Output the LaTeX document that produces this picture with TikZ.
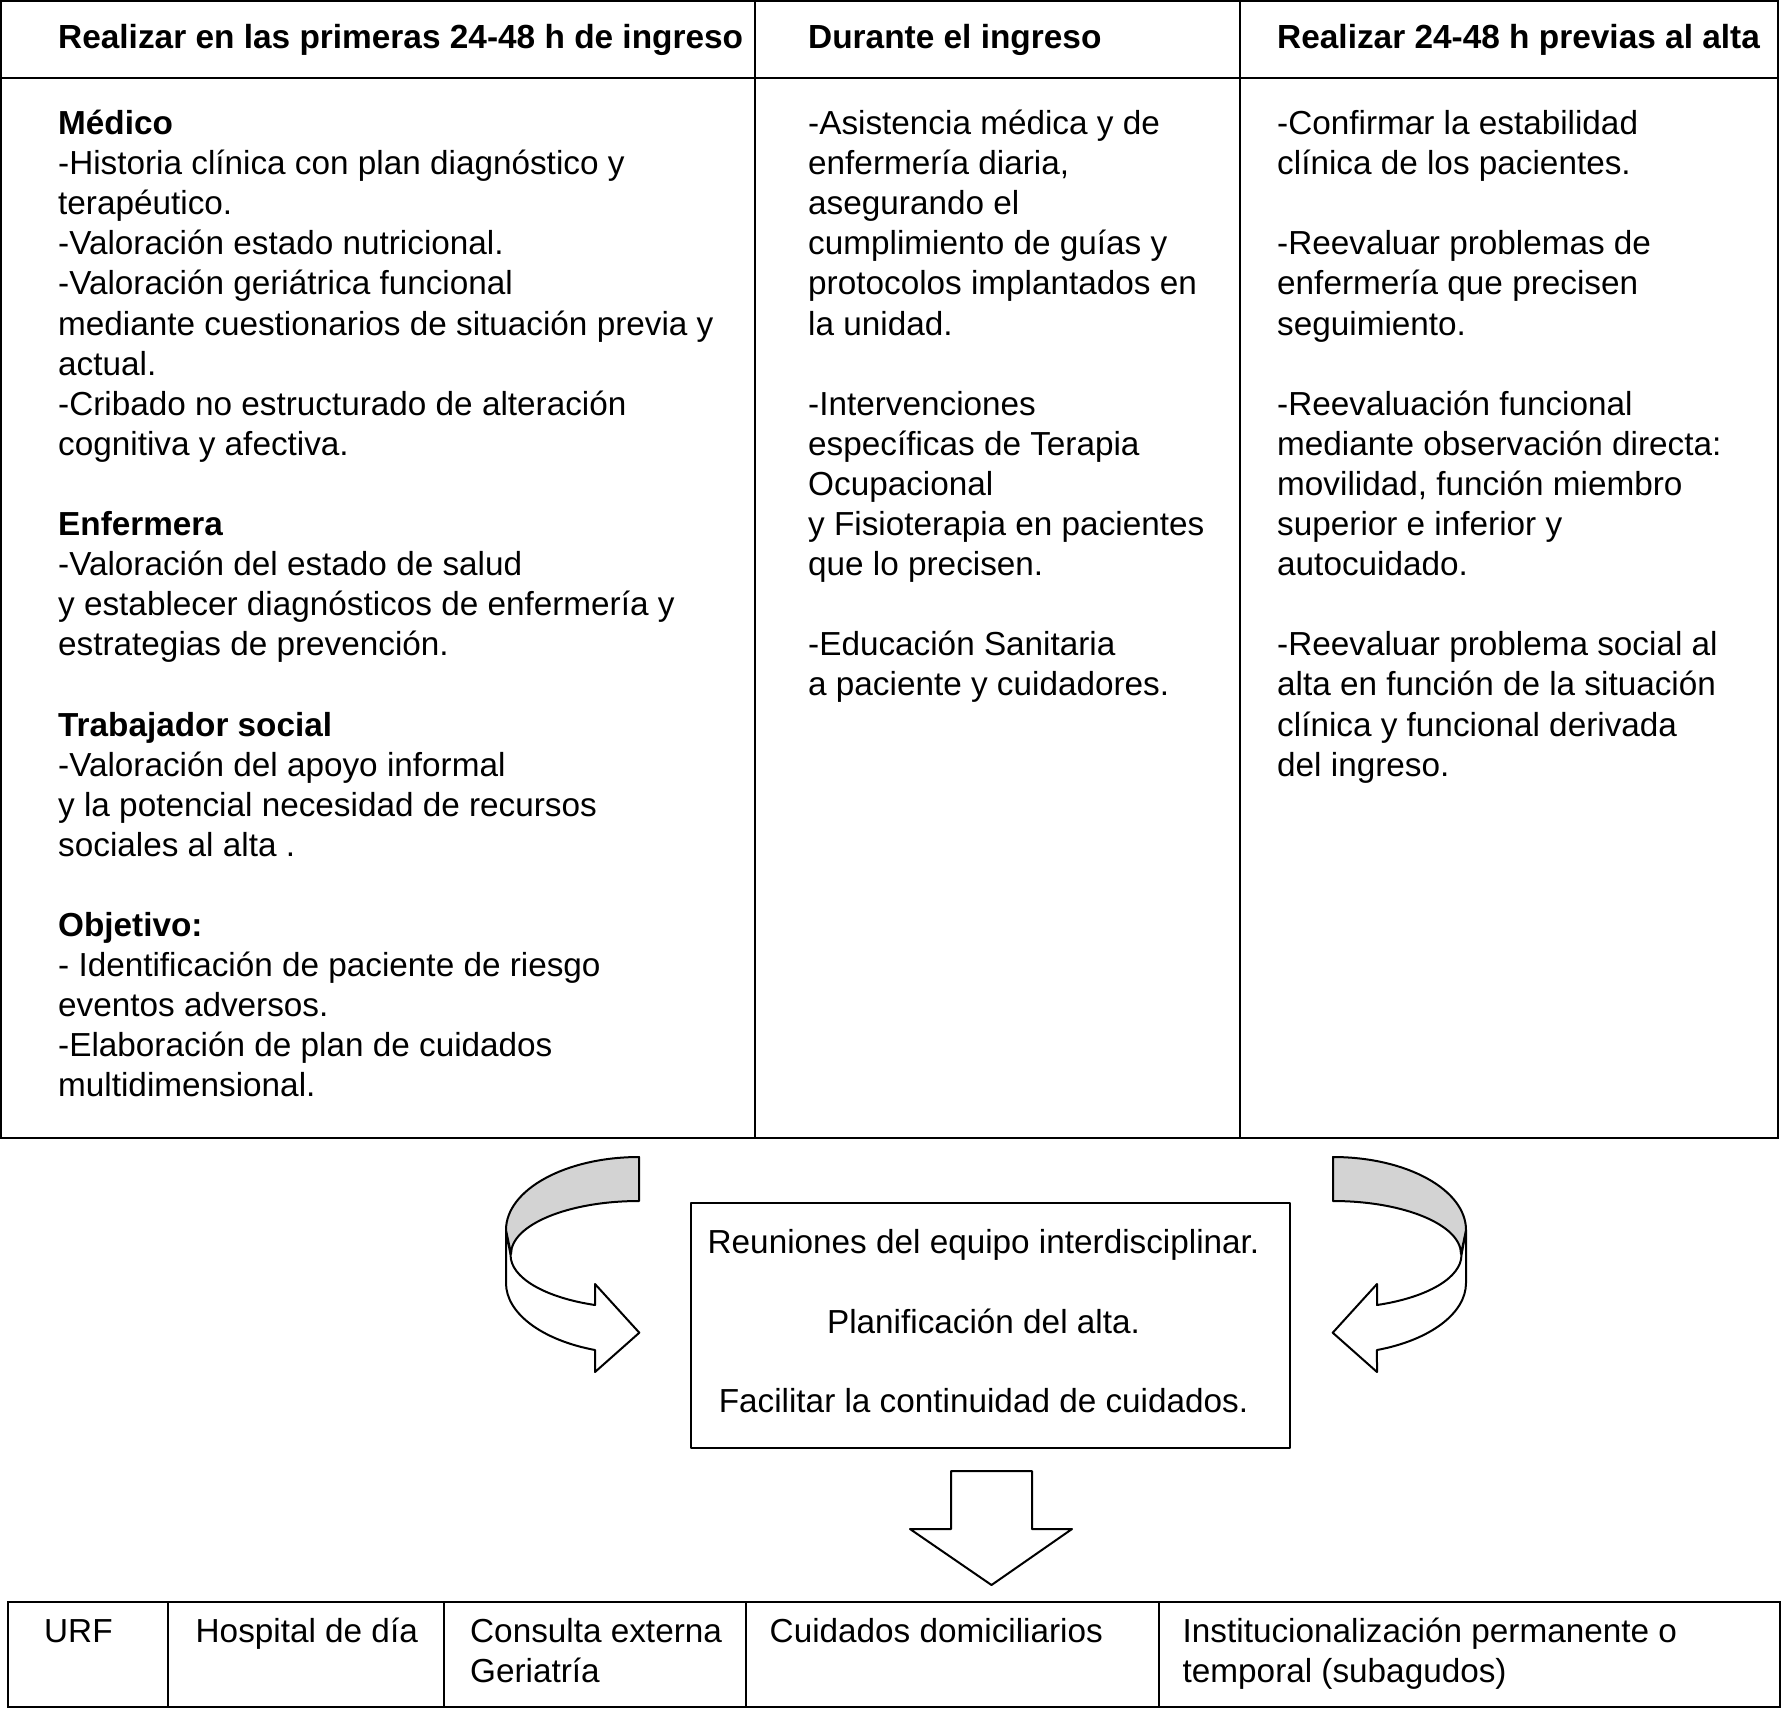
\documentclass[tikz,border=0pt]{standalone}
\usepackage{fontspec}
\setmainfont{Liberation Sans}
\definecolor{ribbongray}{RGB}{211,211,211}
\tikzset{
  frame/.style={draw=black, line width=2.2pt},
  blk/.style={draw=black, line width=2pt, line join=round},
  txt/.style={anchor=base west, inner sep=0pt, font=\fontsize{33.3}{40.1}\selectfont},
  ctxt/.style={anchor=base, inner sep=0pt, font=\fontsize{33.3}{40.1}\selectfont},
  head/.style={anchor=base west, inner sep=0pt, font=\fontsize{33.4}{40.1}\selectfont\bfseries},
}
\newcommand{\colbox}[2]{\begin{minipage}[t]{#1}\fontsize{33.3}{40.1}\selectfont\raggedright #2\end{minipage}}
\begin{document}
\begin{tikzpicture}[x=1pt,y=1pt]
\useasboundingbox (0,0) rectangle (1782,-1709);
% ---------- top table ----------
\draw[frame] (1,-1) rectangle (1778,-1138);
\draw[frame] (1,-78) -- (1778,-78);
\draw[frame] (755,-1) -- (755,-1138);
\draw[frame] (1240,-1) -- (1240,-1138);
\node[head] (h1) at (58,-48) {Realizar en las primeras 24-48 h de ingreso};
\node[head] (h2) at (808,-48) {Durante el ingreso};
\node[head] (h3) at (1277,-48) {Realizar 24-48 h previas al alta};
\node[txt] (c1) at (58,-134.5) {\colbox{690pt}{%
\textbf{Médico}\\
-Historia clínica con plan diagnóstico y\\
terapéutico.\\
-Valoración estado nutricional.\\
-Valoración geriátrica funcional\\
mediante cuestionarios de situación previa y\\
actual.\\
-Cribado no estructurado de alteración\\
cognitiva y afectiva.\\[40.1pt]
\textbf{Enfermera}\\
-Valoración del estado de salud\\
y establecer diagnósticos de enfermería y\\
estrategias de prevención.\\[40.1pt]
\textbf{Trabajador social}\\
-Valoración del apoyo informal\\
y la potencial necesidad de recursos\\
sociales al alta .\\[40.1pt]
\textbf{Objetivo:}\\
- Identificación de paciente de riesgo\\
eventos adversos.\\
-Elaboración de plan de cuidados\\
multidimensional.}};
\node[txt] (c2) at (808,-134.5) {\colbox{430pt}{%
-Asistencia médica y de\\
enfermería diaria,\\
asegurando el\\
cumplimiento de guías y\\
protocolos implantados en\\
la unidad.\\[40.1pt]
-Intervenciones\\
específicas de Terapia\\
Ocupacional\\
y Fisioterapia en pacientes\\
que lo precisen.\\[40.1pt]
-Educación Sanitaria\\
a paciente y cuidadores.}};
\node[txt] (c3) at (1277,-134.5) {\colbox{500pt}{%
-Confirmar la estabilidad\\
clínica de los pacientes.\\[40.1pt]
-Reevaluar problemas de\\
enfermería que precisen\\
seguimiento.\\[40.1pt]
-Reevaluación funcional\\
mediante observación directa:\\
movilidad, función miembro\\
superior e inferior y\\
autocuidado.\\[40.1pt]
-Reevaluar problema social al\\
alta en función de la situación\\
clínica y funcional derivada\\
del ingreso.}};
% ---------- curved ribbon arrows ----------
\begin{scope}
\draw[blk, fill=white] (506,-1230) -- (506,-1283)
  arc[start angle=180, end angle=250.7, x radius=133pt, y radius=71pt]
  -- (595,-1372) -- (639.3,-1332.7) -- (595,-1284) -- (595,-1305)
  arc[start angle=250.1, end angle=180, x radius=128pt, y radius=53pt] -- cycle;
\draw[blk, fill=ribbongray] (639,-1157)
  arc[start angle=90, end angle=180, x radius=133pt, y radius=73pt]
  -- (511,-1254)
  arc[start angle=180, end angle=90, x radius=128pt, y radius=53pt] -- cycle;
\end{scope}
\begin{scope}[xshift=1972pt, xscale=-1]
\draw[blk, fill=white] (506,-1230) -- (506,-1283)
  arc[start angle=180, end angle=250.7, x radius=133pt, y radius=71pt]
  -- (595,-1372) -- (639.3,-1332.7) -- (595,-1284) -- (595,-1305)
  arc[start angle=250.1, end angle=180, x radius=128pt, y radius=53pt] -- cycle;
\draw[blk, fill=ribbongray] (639,-1157)
  arc[start angle=90, end angle=180, x radius=133pt, y radius=73pt]
  -- (511,-1254)
  arc[start angle=180, end angle=90, x radius=128pt, y radius=53pt] -- cycle;
\end{scope}
% ---------- central box ----------
\draw[blk] (691,-1203) rectangle (1290,-1448);
\node[ctxt] (m1) at (983.5,-1253.5) {Reuniones del equipo interdisciplinar.};
\node[ctxt] (m2) at (983.5,-1333) {Planificación del alta.};
\node[ctxt] (m3) at (983.5,-1412.5) {Facilitar la continuidad de cuidados.};
% ---------- down arrow ----------
\draw[blk, fill=white] (951,-1471) -- (1032,-1471) -- (1032,-1529) -- (1072,-1529)
  -- (991.5,-1585) -- (910,-1529) -- (951,-1529) -- cycle;
% ---------- bottom table ----------
\draw[frame] (8,-1602) rectangle (1780,-1707);
\foreach \xx in {168,444,746,1159} \draw[frame] (\xx,-1602) -- (\xx,-1707);
\node[txt] (b1) at (44,-1642.5) {URF};
\node[txt] (b2) at (195.5,-1642.5) {Hospital de día};
\node[txt] (b3) at (470,-1642.5) {\colbox{270pt}{Consulta externa\\Geriatría}};
\node[txt] (b4) at (769.5,-1642.5) {Cuidados domiciliarios};
\node[txt] (b5) at (1182.5,-1642.5) {\colbox{590pt}{Institucionalización permanente o\\temporal (subagudos)}};
\end{tikzpicture}
\end{document}
